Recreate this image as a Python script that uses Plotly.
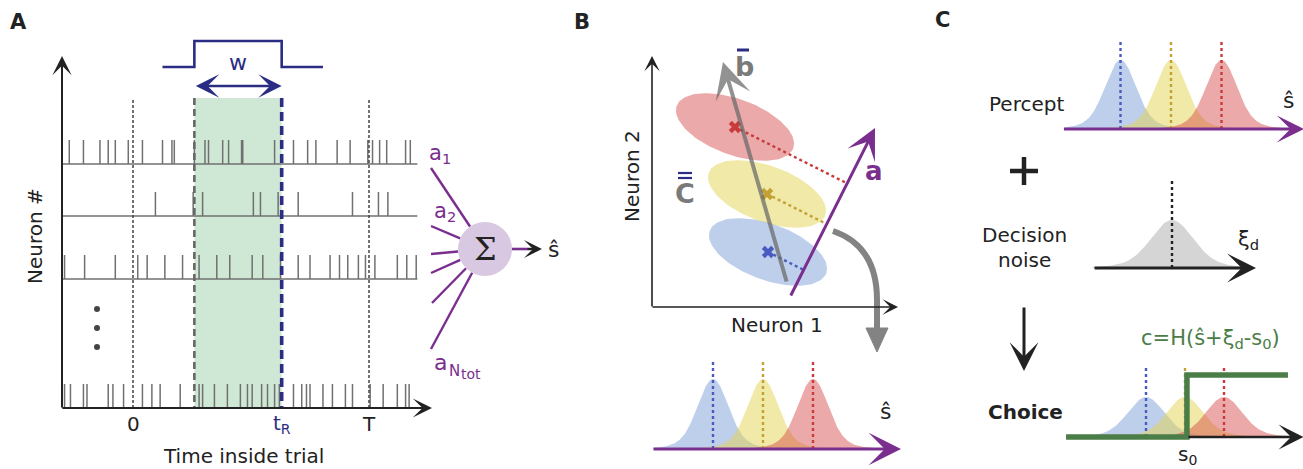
import numpy as np
import plotly.graph_objects as go

W, H = 1303, 469
FONT = "DejaVu Sans"
INK = "#222222"
NAVY = "#2b2d84"
PURPLE = "#7a2e8e"
GRAY = "#6b6b6b"
GREEN = "#4b7d48"

# ---------------- Panel A data ----------------
T_trial = 1000            # ms, stimulus end
t_R = 630                 # readout time (ms)
w_win = 370               # integration window (ms)
t_first, t_last = -300, 1205
spikes_n1 = [-270, -210, -140, -105, -75, -20, 40, 125, 165, 175, 260, 305, 320, 380, 405,
             460, 465, 600, 680, 740, 775, 865, 920, 995, 1015, 1045, 1075, 1155, 1175]
spikes_n2 = [95, 255, 295, 510, 540, 615, 700, 930, 1040, 1080]
spikes_n3 = [-290, -205, -75, 20, 60, 135, 210, 280, 355, 410, 505, 550, 625, 700, 750,
             835, 875, 910, 955, 985, 1025, 1120, 1160, 1200]
spikes_nN = [-290, -265, -210, -195, -105, -85, -40, 40, 80, 115, 200, 280, 295, 345, 400,
             455, 485, 505, 545, 570, 600, 620, 680, 715, 735, 750, 805, 845, 900, 930,
             1005, 1060, 1120, 1155, 1170]
raster_rows = [spikes_n1, spikes_n2, spikes_n3, spikes_nN]
time_ticks = [0, t_R, T_trial]
time_tick_text = ["0", "t<sub>R</sub>", "T"]
time_tick_color = [INK, NAVY, INK]
readout_labels = ["a<sub>1</sub>", "a<sub>2</sub>", "a", "N", "tot"]

# ---------------- Panel B data ----------------
stim_mean_n1 = [11.6, 11.5, 8.3]    # blue, yellow, red (neuron 1 rate)
stim_mean_n2 = [5.5, 11.3, 18.0]    # neuron 2 rate
noise_sd_major = 6.2
noise_sd_minor = 2.8
noise_angle_deg = -20
b_start, b_end = (13.5, 2.4), (7.1, 24.5)
a_start, a_end = (13.8, 1.0), (22.3, 17.9)

# ---------------- Gaussians ----------------
s_means = [-1.0, 0.0, 1.0]
percept_sd = 0.29
decision_noise_sd = 0.4
choice_sd = 0.44
s0 = 0.05
choice_high = 1.55

fill_cols = ['rgba(125,160,215,0.5)', 'rgba(228,212,80,0.5)', 'rgba(210,65,65,0.45)']
dot_cols = ['#4a5bbf', '#c2a234', '#c93b3b']


def span(p0, v0, p1, v1, a, b):
    k = (v1 - v0) / (p1 - p0)
    return [v0 + (a - p0) * k, v0 + (b - p0) * k]


def xr(p0, v0, p1, v1):
    return span(p0, v0, p1, v1, 0, W)


def yr(p0, v0, p1, v1):
    return span(p0, v0, p1, v1, H, 0)


def bump(x, m, sd):
    # bell with slightly heavy tails, as drawn in the schematic
    z = (x - m) / sd
    return 0.85 * np.exp(-0.5 * z ** 2) + 0.15 * np.exp(-0.5 * (z / 1.9) ** 2)


fig = go.Figure()
layout = dict(width=W, height=H, margin=dict(l=0, r=0, t=0, b=0), showlegend=False,
              plot_bgcolor="white", paper_bgcolor="white",
              xaxis=dict(range=[0, W], visible=False, domain=[0, 1], fixedrange=True),
              yaxis=dict(range=[H, 0], visible=False, domain=[0, 1], fixedrange=True))
extra_axes = {
    'xaxis2': xr(133, 0, 369, T_trial),
    'xaxis3': xr(763, 0, 813, 1), 'yaxis3': yr(449, 0, 379, 1),
    'xaxis4': xr(1171, 0, 1221.5, 1), 'yaxis4': yr(129, 0, 60, 1),
    'xaxis5': xr(1172, 0, 1222, 1), 'yaxis5': yr(268, 0, 220, 1),
    'xaxis6': xr(1185, 0, 1224, 1), 'yaxis6': yr(437, 0, 397, 1),
    'xaxis7': xr(652, 0, 752, 10), 'yaxis7': yr(307, 0, 207, 10),
}
for name, rng in extra_axes.items():
    layout[name] = dict(range=rng, visible=False, domain=[0, 1], fixedrange=True,
                        overlaying='x' if name.startswith('x') else 'y')

annotations = []
shapes = []


def text(x, y, s, size=20, color=INK, xref='x', yref='y', bold=False, angle=0,
         family=FONT, xanchor='center'):
    if bold:
        s = "<b>" + s + "</b>"
    annotations.append(dict(x=x, y=y, xref=xref, yref=yref, text=s, showarrow=False,
                            textangle=angle, font=dict(family=family, size=size, color=color),
                            xanchor=xanchor, yanchor='middle'))


def arrow(x, y, ax, ay, color, width, size=1.0, head=3, xref='x', yref='y', **kw):
    annotations.append(dict(x=x, y=y, ax=ax, ay=ay, xref=xref, yref=yref, axref=xref, ayref=yref,
                            text='', showarrow=True, arrowhead=head, arrowsize=size,
                            arrowwidth=width, arrowcolor=color, standoff=0, startstandoff=0, **kw))


def line(x0, y0, x1, y1, color, width):
    shapes.append(dict(type='line', x0=x0, y0=y0, x1=x1, y1=y1, xref='x', yref='y',
                       line=dict(color=color, width=width)))


# ================= Panel A =================
row_base_px = [164, 216, 279, 408]
spike_len_px = 24
A_top_px, A_bot_px = 98, 408

fig.add_trace(go.Scatter(x=[t_R - w_win, t_R, t_R, t_R - w_win, t_R - w_win],
                         y=[A_bot_px, A_bot_px, A_top_px, A_top_px, A_bot_px],
                         fill='toself', fillcolor='#cfe8d5', line=dict(width=0),
                         mode='lines', xaxis='x2', yaxis='y', hoverinfo='skip'))
xs, ys = [], []
for spikes, yb in zip(raster_rows, row_base_px):
    xs += [t_first, t_last, None]
    ys += [yb, yb, None]
    for t in spikes:
        xs += [t, t, None]
        ys += [yb, yb - spike_len_px, None]
fig.add_trace(go.Scatter(x=xs, y=ys, mode='lines', line=dict(color='#707070', width=1.5),
                         xaxis='x2', yaxis='y', hoverinfo='skip'))
for t in [0, T_trial]:
    fig.add_trace(go.Scatter(x=[t, t], y=[100, A_bot_px], mode='lines',
                             line=dict(color='#444444', width=1.5, dash='3px,2px'),
                             xaxis='x2', yaxis='y', hoverinfo='skip'))
fig.add_trace(go.Scatter(x=[t_R - w_win] * 2, y=[A_top_px, A_bot_px], mode='lines',
                         line=dict(color='#666666', width=2.6, dash='7px,4px'),
                         xaxis='x2', yaxis='y', hoverinfo='skip'))
fig.add_trace(go.Scatter(x=[t_R] * 2, y=[A_top_px, A_bot_px], mode='lines',
                         line=dict(color=NAVY, width=3.6, dash='9px,5px'),
                         xaxis='x2', yaxis='y', hoverinfo='skip'))
# window kernel
fig.add_trace(go.Scatter(x=[t_R - w_win - 135, t_R - w_win, t_R - w_win, t_R, t_R, t_R + 175],
                         y=[67, 67, 41, 41, 67, 67], mode='lines',
                         line=dict(color=NAVY, width=2.6), xaxis='x2', yaxis='y', hoverinfo='skip'))
arrow(t_R, 86, t_R - w_win, 86, NAVY, 2.6, 1.5, 3, xref='x2', yref='y', arrowside='end+start')
text(t_R - w_win / 2, 62, "w", size=22, color=NAVY, xref='x2')
# ellipsis dots
fig.add_trace(go.Scatter(x=[97, 97, 97], y=[309, 328, 347], mode='markers',
                         marker=dict(color='#444444', size=6), hoverinfo='skip'))
# axes
arrow(62, 56, 62, 409, INK, 2, 1.6, 3)
arrow(432, 408, 61, 408, INK, 2, 1.6, 3)
for t, s, c in zip(time_ticks, time_tick_text, time_tick_color):
    text(t, 424, s, size=20, color=c, xref='x2')
text(243, 456, "Time inside trial", size=20)
text(35, 236, "Neuron #", size=20, angle=-90)
text(18, 22, "A", size=21, bold=True)

# readout fan
cx, cy, cr = 485, 249, 27
fan_starts = [(431, 168), (431, 226), (431, 254), (431, 273), (432, 303), (431, 349)]
fx, fy = [], []
for sx, sy in fan_starts:
    d = np.hypot(cx - sx, cy - sy)
    fx += [sx, cx + (sx - cx) / d * cr, None]
    fy += [sy, cy + (sy - cy) / d * cr, None]
fig.add_trace(go.Scatter(x=fx, y=fy, mode='lines', line=dict(color=PURPLE, width=2.4),
                         hoverinfo='skip'))
shapes.append(dict(type='circle', xref='x', yref='y', x0=cx - cr, x1=cx + cr, y0=cy - cr,
                   y1=cy + cr, fillcolor='#d8c8e2', line=dict(width=0)))
text(cx, cy, "Σ", size=32, family="DejaVu Serif")
line(cx + cr, cy, 531, cy, PURPLE, 2.6)
arrow(542, cy, 526, cy, INK, 2, 1.5, 3)
text(553, 249, "ŝ", size=22)
text(440, 154, readout_labels[0], size=21, color=PURPLE)
text(445, 212, readout_labels[1], size=21, color=PURPLE)
text(432, 362, readout_labels[2], size=22, color=PURPLE, xanchor='left')
text(447, 371, readout_labels[3], size=15, color=PURPLE, xanchor='left')
text(459, 374, readout_labels[4], size=14, color=PURPLE, xanchor='left')

# ================= Panel B =================
text(582, 22, "B", size=21, bold=True)
arrow(652, 56, 652, 308, INK, 1.6, 1.6, 3)
arrow(898, 307, 651, 307, INK, 1.6, 1.6, 3)
text(632, 176, "Neuron 2", size=20, angle=-90)
text(777, 325, "Neuron 1", size=20)

ang = np.deg2rad(noise_angle_deg)
u = np.array([np.cos(ang), np.sin(ang)])
v = np.array([-np.sin(ang), np.cos(ang)])
tt = np.linspace(0, 2 * np.pi, 120)
for i in [2, 1, 0]:
    mx, my = stim_mean_n1[i], stim_mean_n2[i]
    ex = mx + noise_sd_major * np.cos(tt) * u[0] + noise_sd_minor * np.sin(tt) * v[0]
    ey = my + noise_sd_major * np.cos(tt) * u[1] + noise_sd_minor * np.sin(tt) * v[1]
    fig.add_trace(go.Scatter(x=ex, y=ey, fill='toself', fillcolor=fill_cols[i],
                             line=dict(width=0), mode='lines', xaxis='x7', yaxis='y7',
                             hoverinfo='skip'))
# projections onto a
av = np.array(a_end) - np.array(a_start)
ah = av / np.linalg.norm(av)
for i in range(3):
    m = np.array([stim_mean_n1[i], stim_mean_n2[i]])
    p = np.array(a_start) + np.dot(m - np.array(a_start), ah) * ah
    fig.add_trace(go.Scatter(x=[m[0], p[0]], y=[m[1], p[1]], mode='lines',
                             line=dict(color=dot_cols[i], width=2.4, dash='dot'),
                             xaxis='x7', yaxis='y7', hoverinfo='skip'))
fig.add_trace(go.Scatter(x=stim_mean_n1, y=stim_mean_n2, mode='markers',
                         marker=dict(symbol='x', size=11, color=dot_cols, line=dict(width=0)),
                         xaxis='x7', yaxis='y7', hoverinfo='skip'))
arrow(b_end[0], b_end[1], b_start[0], b_start[1], 'rgba(105,105,105,0.72)', 4, 1.5, 3,
      xref='x7', yref='y7')
arrow(a_end[0], a_end[1], a_start[0], a_start[1], PURPLE, 3, 1.7, 3, xref='x7', yref='y7')
text(744, 66, "b", size=27, color='#7a7a7a', bold=True)
line(737, 50, 749, 50, NAVY, 3)
text(685, 193, "C", size=27, color='#7a7a7a', bold=True)
line(678, 173, 692, 173, NAVY, 2.2)
line(678, 178, 692, 178, NAVY, 2.2)
text(874, 171, "a", size=26, color=PURPLE, bold=True)
# curved transfer arrow
shapes.append(dict(type='path', xref='x', yref='y', path='M 833,231 Q 877,246 877,300 L 877,332',
                   line=dict(color='#838383', width=6)))
shapes.append(dict(type='path', xref='x', yref='y', path='M 866,328 L 888,328 L 877,352 Z',
                   fillcolor='#838383', line=dict(color='#838383', width=1)))

# B bottom gaussians
sx = np.linspace(-2.2, 2.6, 400)
for i, m in enumerate(s_means):
    fig.add_trace(go.Scatter(x=sx, y=bump(sx, m, percept_sd), fill='tozeroy',
                             fillcolor=fill_cols[i], line=dict(width=0), mode='lines',
                             xaxis='x3', yaxis='y3', hoverinfo='skip'))
for i, m in enumerate(s_means):
    fig.add_trace(go.Scatter(x=[m, m], y=[0, 1.25], mode='lines',
                             line=dict(color=dot_cols[i], width=2.4, dash='dot'),
                             xaxis='x3', yaxis='y3', hoverinfo='skip'))
arrow(2.76, 0, -2.22, 0, PURPLE, 3, 1.8, 3, xref='x3', yref='y3')
text(885, 411, "ŝ", size=22)

# ================= Panel C =================
text(942, 20, "C", size=21, bold=True)
sx4 = np.linspace(-2.1, 2.5, 400)
for i, m in enumerate(s_means):
    fig.add_trace(go.Scatter(x=sx4, y=bump(sx4, m, percept_sd),
                             fill='tozeroy', fillcolor=fill_cols[i], line=dict(width=0),
                             mode='lines', xaxis='x4', yaxis='y4', hoverinfo='skip'))
for i, m in enumerate(s_means):
    fig.add_trace(go.Scatter(x=[m, m], y=[0, 1.28], mode='lines',
                             line=dict(color=dot_cols[i], width=2.4, dash='dot'),
                             xaxis='x4', yaxis='y4', hoverinfo='skip'))
arrow(2.63, 0, -2.15, 0, PURPLE, 3, 1.5, 3, xref='x4', yref='y4')
text(1026, 104, "Percept", size=20)
text(1288, 100, "ŝ", size=22)
line(1010, 171, 1038, 171, INK, 4.5)
line(1024, 157, 1024, 185, INK, 4.5)

sx5 = np.linspace(-1.6, 1.6, 300)
fig.add_trace(go.Scatter(x=sx5, y=bump(sx5, 0, decision_noise_sd), fill='tozeroy',
                         fillcolor='rgba(150,150,150,0.4)', line=dict(width=0), mode='lines',
                         xaxis='x5', yaxis='y5', hoverinfo='skip'))
fig.add_trace(go.Scatter(x=[0, 0], y=[0, 1.87], mode='lines',
                         line=dict(color=INK, width=2.4, dash='dot'),
                         xaxis='x5', yaxis='y5', hoverinfo='skip'))
arrow(1.68, 0, -1.58, 0, INK, 3, 1.6, 3, xref='x5', yref='y5')
text(1024, 235, "Decision", size=20)
text(1024, 260, "noise", size=20)
text(1248, 240, "ξ<sub>d</sub>", size=21)

arrow(1024, 371, 1024, 306, INK, 3, 1.6, 3)
text(1025, 412, "Choice", size=20, bold=True)

sx6 = np.linspace(-3.0, 3.0, 400)
for i, m in enumerate(s_means):
    fig.add_trace(go.Scatter(x=sx6, y=bump(sx6, m, choice_sd),
                             fill='tozeroy', fillcolor=fill_cols[i], line=dict(width=0),
                             mode='lines', xaxis='x6', yaxis='y6', hoverinfo='skip'))
for i, m in enumerate(s_means):
    fig.add_trace(go.Scatter(x=[m, m], y=[0, 1.8], mode='lines',
                             line=dict(color=dot_cols[i], width=2.4, dash='dot'),
                             xaxis='x6', yaxis='y6', hoverinfo='skip'))
fig.add_trace(go.Scatter(x=[-3.05, s0, s0, 2.64], y=[0, 0, choice_high, choice_high],
                         mode='lines', line=dict(color=GREEN, width=5.5),
                         xaxis='x6', yaxis='y6', hoverinfo='skip'))
arrow(3.04, 0, s0, 0, INK, 2.6, 1.6, 3, xref='x6', yref='y6')
text(1210, 339, "c=H(ŝ+ξ<sub>d</sub>-s<sub>0</sub>)", size=21, color=GREEN)
text(1187, 455, "s<sub>0</sub>", size=20)

layout['annotations'] = annotations
layout['shapes'] = shapes
fig.update_layout(**layout)
fig.write_html("out.html")
